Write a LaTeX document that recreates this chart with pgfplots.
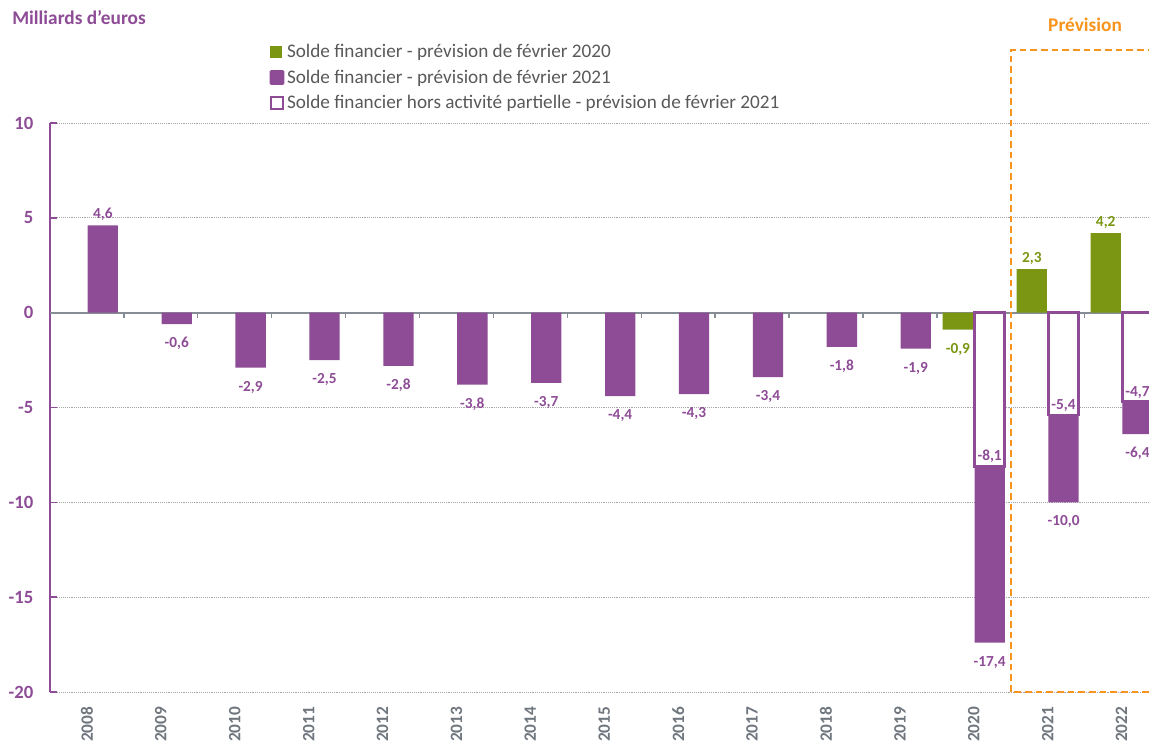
\documentclass[border=0pt]{standalone}
\usepackage{pgfplots}
\pgfplotsset{compat=1.18}
\usepackage{fontspec}
\setmainfont{Carlito}
\definecolor{purp}{HTML}{8E4C96}
\definecolor{grn}{HTML}{7A9613}
\definecolor{orng}{HTML}{F7941D}
\definecolor{txtgray}{HTML}{595959}
\definecolor{yeargray}{HTML}{6F767D}
\definecolor{zerogray}{HTML}{868D94}
\begin{document}
\begin{tikzpicture}
\begin{axis}[
  at={(0,0)}, anchor=south west,
  scale only axis, width=824.25pt, height=426.75pt,
  xmin=-0.5, xmax=14.371, ymin=-20, ymax=10,
  ytick={-20,-15,...,10},
  xtick={0,...,14},
  xticklabels={2008,2009,2010,2011,2012,2013,2014,2015,2016,2017,2018,2019,2020,2021,2022},
  axis lines*=left, axis line style={-},
  x axis line style={draw=none},
  y axis line style={draw=purp, line width=1.1pt},
  ytick style={draw=purp, line width=1.1pt},
  xtick style={draw=none},
  tick align=inside, major tick length=5pt,
  ymajorgrids, grid style={densely dotted, gray!70, line width=0.6pt},
  yticklabel style={font=\fontsize{14}{16}\selectfont\bfseries, text=purp, xshift=-9pt},
  xticklabel style={font=\fontsize{13}{15}\selectfont\bfseries, text=yeargray, rotate=90, anchor=east, xshift=-7.5pt},
  /pgf/number format/assume math mode=true,
  clip mode=individual,
  point meta=y,
  nodes near coords={\pgfmathprintnumber[fixed, fixed zerofill, precision=1, use comma, assume math mode=true]{\pgfplotspointmeta}},
  every node near coord/.append style={font=\fontsize{11.5}{13}\selectfont\bfseries, inner sep=6.5pt, yshift=-3.4pt},
  legend style={at={(0.196,1.148)}, anchor=north west, draw=none, fill=none,
    font=\fontsize{14.4}{16}\selectfont, text=txtgray, row sep=3.6pt,
    legend cell align=left},
  legend cell align=left,
]
% ligne du zero et graduations entre les annees
\draw[zerogray, line width=1.5pt] (axis cs:-0.5,0) -- (axis cs:14.371,0);
\pgfplotsinvokeforeach{0.5,1.5,...,13.5}{
  \draw[zerogray, line width=1pt] (axis cs:#1,0) -- (axis cs:#1,-0.28);
}

\addplot[ybar, bar width=0.41, bar shift=-0.215, fill=grn, draw=none,
  every node near coord/.append style={text=grn, xshift=-11.9pt},
  legend image code/.code={\fill[grn] (0pt,-4.5pt) rectangle (9pt,4.5pt);}]
  coordinates {(12,-0.9) (13,2.3) (14,4.2)};
\addlegendentry{Solde financier - prévision de février 2020}

\addplot[ybar, bar width=0.41, bar shift=0.215, fill=purp, draw=none,
  every node near coord/.append style={text=purp, xshift=11.9pt},
  legend image code/.code={\fill[purp, rounded corners=1pt] (-0.5pt,-5.5pt) rectangle (10.5pt,5.5pt);}]
  coordinates {(0,4.6) (1,-0.6) (2,-2.9) (3,-2.5) (4,-2.8) (5,-3.8) (6,-3.7)
    (7,-4.4) (8,-4.3) (9,-3.4) (10,-1.8) (11,-1.9) (12,-17.4) (13,-10.0) (14,-6.4)};
\addlegendentry{Solde financier - prévision de février 2021}

\addplot[ybar, bar width=0.41, bar shift=0.215, fill=white, draw=purp, line width=2pt,
  nodes near coords align={anchor=south},
  every node near coord/.append style={text=purp, inner sep=1.5pt, yshift=3.4pt, xshift=11.9pt},
  legend image code/.code={\draw[purp, line width=1.8pt, fill=white] (0.5pt,-4.5pt) rectangle (9.5pt,4.5pt);}]
  coordinates {(12,-8.1) (13,-5.4) (14,-4.7)};
\addlegendentry{Solde financier hors activité partielle - prévision de février 2021}

% cadre de la prevision
\draw[orng, line width=1.5pt, dash pattern=on 5pt off 3pt]
  (axis cs:14.371,-20) -- (axis cs:12.5,-20) -- (axis cs:12.5,13.86) -- (axis cs:14.371,13.86);
\node[anchor=west, font=\fontsize{14.5}{16}\selectfont\bfseries, text=purp, inner sep=0pt]
  at (axis cs:-1.014,15.55) {Milliards d'euros};
\node[font=\fontsize{14.5}{16}\selectfont\bfseries, text=orng, inner sep=0pt]
  at (axis cs:13.506,15.18) {Prévision};
\end{axis}
\pgfresetboundingbox
\path[use as bounding box] (-37.5pt,-39.75pt) rectangle (824.25pt,519pt);
\end{tikzpicture}
\end{document}
